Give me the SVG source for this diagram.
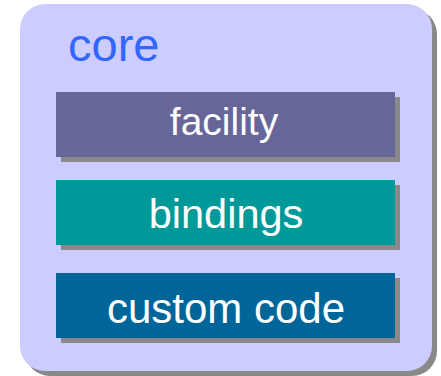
<svg xmlns="http://www.w3.org/2000/svg" width="441" height="376" viewBox="0 0 441 376">
  <style>
    .shadow { fill: #898989; }
    .label { font-family: "Liberation Sans", Arial, sans-serif; fill: #ffffff; text-anchor: middle; }
  </style>
  <rect width="441" height="376" fill="#ffffff"/>

  <!-- container -->
  <g id="core">
    <rect class="shadow" x="25" y="9" width="412" height="367" rx="25" ry="25"/>
    <rect x="20" y="4" width="412" height="367" rx="25" ry="25" fill="#ccccff"/>
    <text x="68" y="61" font-family="Liberation Sans, Arial, sans-serif" font-size="47" fill="#3366ff">core</text>
  </g>

  <g id="facility">
    <rect class="shadow" x="61" y="97" width="339" height="65"/>
    <rect x="56" y="92" width="339" height="65" fill="#666699"/>
    <text class="label" x="224" y="135" font-size="39">facility</text>
  </g>

  <g id="bindings">
    <rect class="shadow" x="61" y="185" width="339" height="65"/>
    <rect x="56" y="180" width="339" height="65" fill="#009999"/>
    <text class="label" x="226" y="228" font-size="41.5">bindings</text>
  </g>

  <g id="custom-code">
    <rect class="shadow" x="61" y="278" width="339" height="65"/>
    <rect x="56" y="273" width="339" height="65" fill="#006699"/>
    <text class="label" x="226" y="323" font-size="42">custom code</text>
  </g>

  <g id="connectors"/>
</svg>
